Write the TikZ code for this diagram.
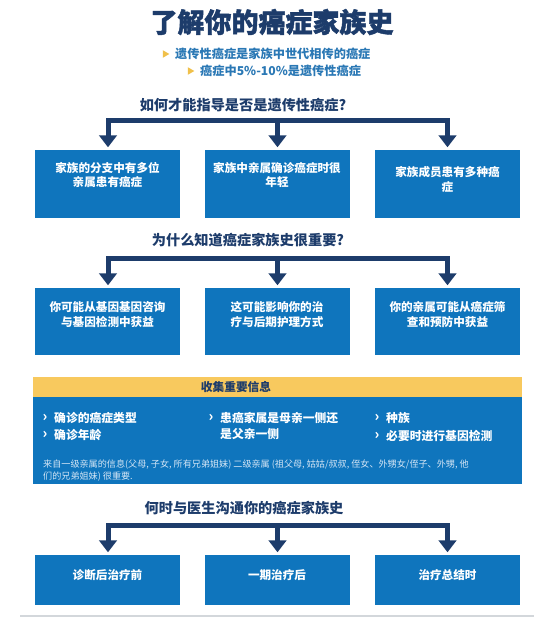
\documentclass[tikz,border=0pt]{standalone}
\usepackage{fontspec}
\setmainfont{Noto Sans CJK SC}
\newfontfamily\heavyfont{Noto Sans CJK SC}[BoldFeatures={FakeBold=1.6}]
\usetikzlibrary{arrows.meta,shapes.geometric}
\definecolor{navy}{HTML}{1D3C6B}
\definecolor{boxblue}{HTML}{0F75BD}
\definecolor{midblue}{HTML}{2A78B5}
\definecolor{yel}{HTML}{F8C95E}
\definecolor{tri}{HTML}{F0C04A}
\definecolor{foot}{HTML}{D3E5F5}
\definecolor{rule}{HTML}{D3D7DB}
\tikzset{
  titletxt/.style={text=navy,font=\heavyfont\fontsize{27}{30}\selectfont\bfseries,inner sep=0pt},
  bullettxt/.style={text=midblue,font=\fontsize{12.2}{14}\selectfont\bfseries,inner sep=0pt,anchor=west},
  bullettri/.style={isosceles triangle,isosceles triangle apex angle=60,fill=tri,minimum height=6.5pt,minimum width=7pt,inner sep=0pt},
  headtxt/.style={text=navy,font=\fontsize{14.2}{16}\selectfont\bfseries,inner sep=0pt},
  bar/.style={draw=navy,line width=5pt,line cap=rect},
  arr/.style={draw=navy,line width=5pt,-{Triangle[width=17.5pt,length=12pt]},shorten >=2.5pt},
  bluebox/.style={fill=boxblue,inner sep=0pt,minimum width=145pt},
  boxtxt/.style={text=white,font=\fontsize{11.6}{14.5}\selectfont\bfseries,align=center,inner sep=0pt},
  hdrbox/.style={fill=yel,inner sep=0pt,minimum width=489pt,minimum height=20pt},
  panelbox/.style={fill=boxblue,inner sep=0pt,minimum width=489pt,minimum height=87pt},
  itemtxt/.style={text=white,font=\fontsize{11.8}{15.5}\selectfont\bfseries,align=left,inner sep=0pt,anchor=west},
  chev/.style={text=white,font=\fontsize{14}{15}\selectfont\bfseries,inner sep=0pt},
  foottxt/.style={text=foot,font=\fontsize{9.1}{11.5}\selectfont,align=left,inner sep=0pt,anchor=west},
  rulel/.style={draw=rule,line width=1.5pt}
}
\begin{document}
\begin{tikzpicture}[x=1pt,y=-1pt]
\useasboundingbox[fill=white] (0,0) rectangle (548,618);

% title and bullets
\node[titletxt] (title) at (272,22) {了解你的癌症家族史};
\node[bullettri] (tri1) at (165,54) {};
\node[bullettxt] (bul1) at (175,54) {遗传性癌症是家族中世代相传的癌症};
\node[bullettri] (tri2) at (190,71) {};
\node[bullettxt] (bul2) at (200,71) {癌症中5\%-10\%是遗传性癌症};

% section 1
\node[headtxt] (h1) at (243,105) {如何才能指导是否是遗传性癌症?};
\coordinate (k11) at (108,120.5);
\coordinate (k12) at (277.5,120.5);
\coordinate (k13) at (447.5,120.5);
\node[bluebox,minimum height=68pt] (b11) at (107.5,184) {};
\node[bluebox,minimum height=68pt] (b12) at (277,184) {};
\node[bluebox,minimum height=68pt] (b13) at (447.5,184) {};
\draw[bar] (k11) -- (k13);
\draw[arr] (k11) -- (k11 |- b11.north);
\draw[arr] (k12) -- (k12 |- b12.north);
\draw[arr] (k13) -- (k13 |- b13.north);
\node[boxtxt] (t11) at (107.5,175) {家族的分支中有多位\\亲属患有癌症};
\node[boxtxt] (t12) at (277,175) {家族中亲属确诊癌症时很\\年轻};
\node[boxtxt] (t13) at (447.5,179.5) {家族成员患有多种癌\\症};

% section 2
\node[headtxt] (h2) at (248,240) {为什么知道癌症家族史很重要?};
\coordinate (k21) at (108,258.5);
\coordinate (k22) at (277.5,258.5);
\coordinate (k23) at (447.5,258.5);
\node[bluebox,minimum height=67pt] (b21) at (107.5,321.5) {};
\node[bluebox,minimum height=67pt] (b22) at (277,321.5) {};
\node[bluebox,minimum height=67pt] (b23) at (447.5,321.5) {};
\draw[bar] (k21) -- (k23);
\draw[arr] (k21) -- (k21 |- b21.north);
\draw[arr] (k22) -- (k22 |- b22.north);
\draw[arr] (k23) -- (k23 |- b23.north);
\node[boxtxt] (t21) at (107.5,314.5) {你可能从基因基因咨询\\与基因检测中获益};
\node[boxtxt] (t22) at (277,314.5) {这可能影响你的治\\疗与后期护理方式};
\node[boxtxt] (t23) at (447.5,314.5) {你的亲属可能从癌症筛\\查和预防中获益};

% information panel
\node[hdrbox] (hdr) at (277.5,387) {};
\node[panelbox] (panel) at (277.5,440.5) {};
\node[text=navy,font=\fontsize{11.7}{14}\selectfont\bfseries,inner sep=0pt] (hdrtxt) at (236,387) {收集重要信息};
\node[chev] (c1) at (45,418) {›};
\node[itemtxt] (i1) at (54,418) {确诊的癌症类型};
\node[chev] (c2) at (45,435) {›};
\node[itemtxt] (i2) at (54,435) {确诊年龄};
\node[chev] (c3) at (211,418) {›};
\node[itemtxt] (i3) at (220,426) {患癌家属是母亲一侧还\\是父亲一侧};
\node[chev] (c4) at (377,418) {›};
\node[itemtxt] (i4) at (386,418) {种族};
\node[chev] (c5) at (377,436) {›};
\node[itemtxt] (i5) at (386,436) {必要时进行基因检测};
\node[foottxt] (fn) at (43,470.5) {来自一级亲属的信息(父母, 子女, 所有兄弟姐妹) 二级亲属 (祖父母, 姑姑/叔叔, 侄女、外甥女/侄子、外甥, 他\\们的兄弟姐妹) 很重要.};

% section 3
\node[headtxt] (h3) at (244,508) {何时与医生沟通你的癌症家族史};
\coordinate (k31) at (108,525.5);
\coordinate (k32) at (277.5,525.5);
\coordinate (k33) at (447.5,525.5);
\node[bluebox,minimum height=50pt] (b31) at (107.5,580) {};
\node[bluebox,minimum height=50pt] (b32) at (277,580) {};
\node[bluebox,minimum height=50pt] (b33) at (447.5,580) {};
\draw[bar] (k31) -- (k33);
\draw[arr] (k31) -- (k31 |- b31.north);
\draw[arr] (k32) -- (k32 |- b32.north);
\draw[arr] (k33) -- (k33 |- b33.north);
\node[boxtxt] (t31) at (107.5,575) {诊断后治疗前};
\node[boxtxt] (t32) at (277,575) {一期治疗后};
\node[boxtxt] (t33) at (447.5,575) {治疗总结时};

% bottom rule
\coordinate (r1) at (20,616);
\coordinate (r2) at (534,616);
\draw[rulel] (r1) -- (r2);
\end{tikzpicture}
\end{document}
